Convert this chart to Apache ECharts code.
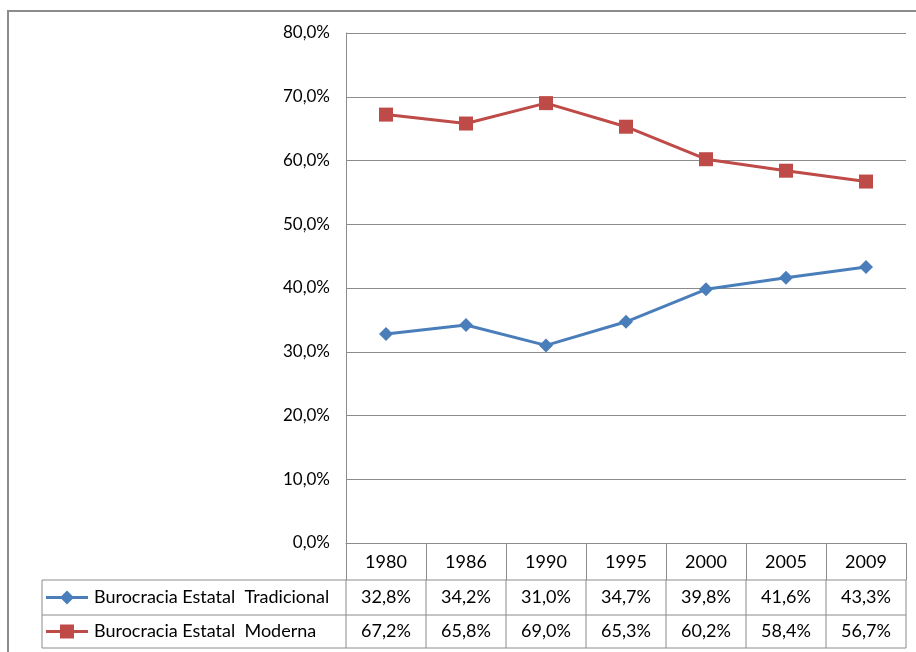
<!DOCTYPE html>
<html>
<head>
<meta charset="utf-8">
<script src="https://cdn.jsdelivr.net/npm/echarts@6/dist/echarts.min.js"></script>
<style>
html,body{margin:0;padding:0;background:#fff;}
#chart{width:916px;height:652px;}
</style>
</head>
<body>
<div id="chart"></div>
<script>
const years = ['1980', '1986', '1990', '1995', '2000', '2005', '2009'];
const tradicional = [32.8, 34.2, 31.0, 34.7, 39.8, 41.6, 43.3];
const moderna = [67.2, 65.8, 69.0, 65.3, 60.2, 58.4, 56.7];
const seriesNames = ['Burocracia Estatal  Tradicional', 'Burocracia Estatal  Moderna'];
const yMin = 0, yMax = 80, yStep = 10;

const FONT = 'Lato';
const FS = 17;
const TFS = 18;
const GRID = '#8c8c8c';
const BLUE = '#4a7ebb';
const RED = '#be4b48';
const fmt = v => v.toFixed(1).replace('.', ',') + '%';

const chart = echarts.init(document.getElementById('chart'));
const option = {
  animation: false,
  backgroundColor: '#fff',
  textStyle: { fontFamily: FONT },
  grid: { left: 346, right: 10, top: 33, bottom: 109 },
  xAxis: {
    type: 'category',
    data: years,
    boundaryGap: true,
    axisLine: { lineStyle: { color: GRID, width: 1 } },
    axisTick: { show: true, length: 37, interval: 0, lineStyle: { color: GRID, width: 1 } },
    axisLabel: { color: '#000', fontSize: TFS, fontFamily: FONT, margin: 10, interval: 0 }
  },
  yAxis: {
    type: 'value',
    min: yMin, max: yMax, interval: yStep,
    axisLine: { show: true, lineStyle: { color: GRID, width: 1 } },
    axisTick: { show: false },
    splitLine: { lineStyle: { color: GRID, width: 1 } },
    axisLabel: { color: '#000', fontSize: FS, fontFamily: FONT, margin: 16, formatter: v => fmt(v) }
  },
  series: [
    { name: seriesNames[0], type: 'line', data: tradicional, symbol: 'diamond', symbolSize: 14,
      lineStyle: { color: BLUE, width: 3 }, itemStyle: { color: BLUE } },
    { name: seriesNames[1], type: 'line', data: moderna, symbol: 'rect', symbolSize: 14,
      lineStyle: { color: RED, width: 3 }, itemStyle: { color: RED } }
  ]
};
chart.setOption(option);

function buildTable() {
  const xs = years.map(y => chart.convertToPixel({ xAxisIndex: 0 }, y));
  const step = xs[1] - xs[0];
  const left = xs[0] - step / 2;
  const right = xs[xs.length - 1] + step / 2;
  const y0 = chart.convertToPixel({ yAxisIndex: 0 }, 0);
  const r1 = y0 + 37, r2 = y0 + 72, r3 = y0 + 105;
  const legLeft = 42;
  const els = [];
  const line = (x1, y1, x2, y2) => els.push({ type: 'line', shape: { x1, y1, x2, y2 }, style: { stroke: GRID, lineWidth: 1 }, silent: true });
  // outer frame
  els.push({ type: 'polyline', shape: { points: [[8, 652], [8, 11], [916, 11]] }, style: { stroke: GRID, lineWidth: 2, fill: null }, silent: true });
  // horizontal rules
  [r1, r2, r3].forEach(y => line(legLeft, y, right, y));
  line(legLeft, r1, legLeft, r3);
  for (let i = 0; i <= years.length; i++) {
    const x = left + i * step;
    line(x, r1, x, r3);
  }
  const rows = [tradicional, moderna];
  const colors = [BLUE, RED];
  const rowMid = [(r1 + r2) / 2, (r2 + r3) / 2];
  rows.forEach((arr, k) => {
    const cy = rowMid[k];
    els.push({ type: 'line', shape: { x1: 46, y1: cy, x2: 88, y2: cy }, style: { stroke: colors[k], lineWidth: 3 }, silent: true });
    if (k === 0) {
      els.push({ type: 'polygon', shape: { points: [[67, cy - 7], [74, cy], [67, cy + 7], [60, cy]] }, style: { fill: colors[k] }, silent: true });
    } else {
      els.push({ type: 'rect', shape: { x: 60, y: cy - 7, width: 14, height: 14 }, style: { fill: colors[k] }, silent: true });
    }
    els.push({ type: 'text', x: 94, y: cy, style: { text: seriesNames[k], fill: '#000', font: TFS + 'px ' + FONT, textVerticalAlign: 'middle', textAlign: 'left' }, silent: true });
    arr.forEach((v, i) => {
      els.push({ type: 'text', x: xs[i], y: cy, style: { text: fmt(v), fill: '#000', font: TFS + 'px ' + FONT, textVerticalAlign: 'middle', textAlign: 'center' }, silent: true });
    });
  });
  chart.setOption({ graphic: { elements: els } });
}
buildTable();
</script>
</body>
</html>
